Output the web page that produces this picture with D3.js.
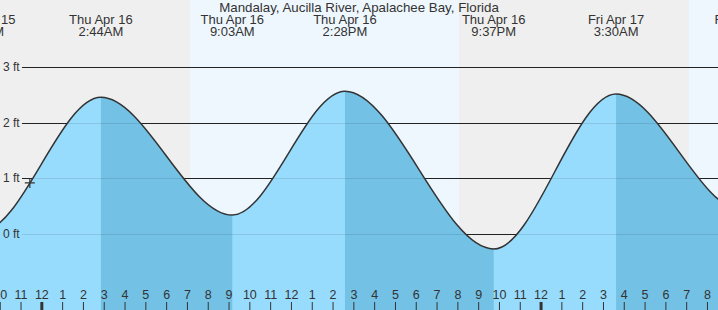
<!DOCTYPE html>
<html>
<head>
<meta charset="utf-8">
<script src="https://cdn.jsdelivr.net/npm/d3@7"></script>
<style>
  body { margin: 0; background: #fff; }
  svg { display: block; font-family: "Liberation Sans", Arial, sans-serif; }
</style>
</head>
<body>
<svg class="rend_tide"></svg>
<script>
/////////////// data ////////////////
const TITLE = "Mandalay, Aucilla River, Apalachee Bay, Florida";
// high / low tides, feet (the outer ones lie outside the view)
const tideTimes = ["2026-04-15T14:20", "2026-04-15T21:00", "2026-04-16T02:44", "2026-04-16T09:03",
    "2026-04-16T14:28", "2026-04-16T21:37", "2026-04-17T03:30", "2026-04-17T09:35", "2026-04-17T16:10"];
const tideFt = [2.55, 0.05, 2.46, 0.34, 2.57, -0.27, 2.52, 0.42, 2.45];
const tideIsHigh = [true, false, true, false, true, false, true, false, true];
// daylight intervals
const sunriseTimes = ["2026-04-16T07:01", "2026-04-17T07:00"];
const sunsetTimes = ["2026-04-16T19:57", "2026-04-17T20:00"];
// current reading
const nowTime = "2026-04-15T23:19";
const nowFt = 0.92;
const yTicksFt = [0, 1, 2, 3];
// visible window
const viewStart = "2026-04-15T21:53";
const viewEnd = "2026-04-17T08:24";

/////////////// setup ////////////////
const W = 718;
const H = 310;
const BG_NIGHT = "#efefef";
const BG_DAY = "#eef7fe";
const WATER_RISE = "#98dcfd";
const WATER_FALL = "#73c1e5";
const INK = "#333";
const TICK_SHIFT = -2.7;
const parse = d3.timeParse("%Y-%m-%dT%H:%M");
const fmtDay = d3.timeFormat("%a %b %-d");
const fmtTime = d3.timeFormat("%-I:%M%p");

const tides = tideTimes.map((t, i) => ({ t: parse(t), ft: tideFt[i], high: tideIsHigh[i] }));

const SCL_X = d3.scaleTime()
    .domain([parse(viewStart), parse(viewEnd)])
    .range([0, W]);
const SCL_Y = d3.scaleLinear()
    .domain([0, 3])
    .range([234, 67.3]);

const SVG = d3.select(".rend_tide")
    .attr("width", W)
    .attr("height", H);

// night background then daylight bands
SVG.append("rect")
    .attr("width", W).attr("height", H)
    .attr("fill", BG_NIGHT);
SVG.selectAll(".day")
    .data(sunriseTimes.map((d, i) => [parse(d), parse(sunsetTimes[i])]))
    .enter()
    .append("rect")
    .attr("class", "day")
    .attr("x", d => SCL_X(d[0]))
    .attr("width", d => SCL_X(d[1]) - SCL_X(d[0]))
    .attr("height", H)
    .attr("fill", BG_DAY);

// grid lines under the water
SVG.append("g")
    .selectAll("line")
    .data(yTicksFt)
    .enter()
    .append("line")
    .attr("x1", 22).attr("x2", W)
    .attr("y1", d => Math.round(SCL_Y(d)) + 0.5)
    .attr("y2", d => Math.round(SCL_Y(d)) + 0.5)
    .attr("stroke", "#222");

/////////////// water ////////////////
const AREA = d3.area()
    .curve(d3.curveMonotoneX)
    .x(d => SCL_X(d.t))
    .y0(H)
    .y1(d => SCL_Y(d.ft));
const LINE = d3.line()
    .curve(d3.curveMonotoneX)
    .x(d => SCL_X(d.t))
    .y(d => SCL_Y(d.ft));

SVG.append("clipPath")
    .attr("id", "waterClip")
    .append("path")
    .attr("d", AREA(tides));

SVG.append("path")
    .attr("d", AREA(tides))
    .attr("fill", WATER_RISE);

// falling tide: from each high to the following low
const falling = tides.filter((d, i) => d.high && i + 1 < tides.length)
    .map(d => [d.t, tides[tides.indexOf(d) + 1].t]);
SVG.append("g")
    .attr("clip-path", "url(#waterClip)")
    .selectAll("rect")
    .data(falling)
    .enter()
    .append("rect")
    .attr("x", d => SCL_X(d[0]))
    .attr("width", d => SCL_X(d[1]) - SCL_X(d[0]))
    .attr("height", H)
    .attr("fill", WATER_FALL);

// faint grid lines through the water
SVG.append("g")
    .attr("clip-path", "url(#waterClip)")
    .selectAll("line")
    .data(yTicksFt)
    .enter()
    .append("line")
    .attr("x1", 22).attr("x2", W)
    .attr("y1", d => Math.round(SCL_Y(d)) + 0.5)
    .attr("y2", d => Math.round(SCL_Y(d)) + 0.5)
    .attr("stroke", "#000")
    .attr("stroke-opacity", 0.1);

SVG.append("path")
    .attr("d", LINE(tides))
    .attr("fill", "none")
    .attr("stroke", INK)
    .attr("stroke-width", 1.5);

// y labels on top
SVG.append("g")
    .selectAll("text")
    .data(yTicksFt)
    .enter()
    .append("text")
    .attr("x", 3)
    .attr("y", d => SCL_Y(d) + 4)
    .attr("font-size", 12)
    .attr("fill", INK)
    .text(d => `${d} ft`);

// current level marker
const NOW_X = SCL_X(parse(nowTime));
const NOW_Y = SCL_Y(nowFt);
SVG.append("path")
    .attr("d", `M${NOW_X - 5},${NOW_Y}H${NOW_X + 5}M${NOW_X},${NOW_Y - 5}V${NOW_Y + 5}`)
    .attr("stroke", INK)
    .attr("stroke-width", 1.2);

/////////////// labels ////////////////
SVG.append("text")
    .attr("x", 359).attr("y", 11.5)
    .attr("text-anchor", "middle")
    .attr("font-size", 13.3)
    .attr("fill", INK)
    .text(TITLE);

// only tides whose label reaches into the view
const LBL_GRP = SVG.selectAll(".tideLbl")
    .data(tides.filter(d => SCL_X(d.t) > -60 && SCL_X(d.t) < W + 60))
    .enter()
    .append("g")
    .attr("class", "tideLbl")
    .attr("transform", d => `translate(${SCL_X(d.t)}, 0)`)
    .attr("font-size", 13)
    .attr("fill", INK)
    .attr("text-anchor", "middle");
LBL_GRP.append("text").attr("y", 24).text(d => fmtDay(d.t));
LBL_GRP.append("text").attr("y", 36).text(d => fmtTime(d.t));

/////////////// hour axis ////////////////
const AXIS = d3.axisTop(SCL_X)
    .ticks(d3.timeHour.every(1))
    .tickFormat(d3.timeFormat("%-I"))
    .tickSize(8)
    .tickPadding(3);
const AXIS_GRP = SVG.append("g")
    .attr("transform", `translate(${TICK_SHIFT}, ${H})`)
    .call(AXIS);
AXIS_GRP.select(".domain").remove();
AXIS_GRP.selectAll("text")
    .attr("font-size", 12.5)
    .attr("font-family", "Liberation Sans, Arial, sans-serif")
    .attr("fill", INK);
AXIS_GRP.selectAll("line")
    .attr("stroke", INK)
    .attr("stroke-width", d => d.getHours() == 0 ? 3 : 1);
</script>
</body>
</html>
